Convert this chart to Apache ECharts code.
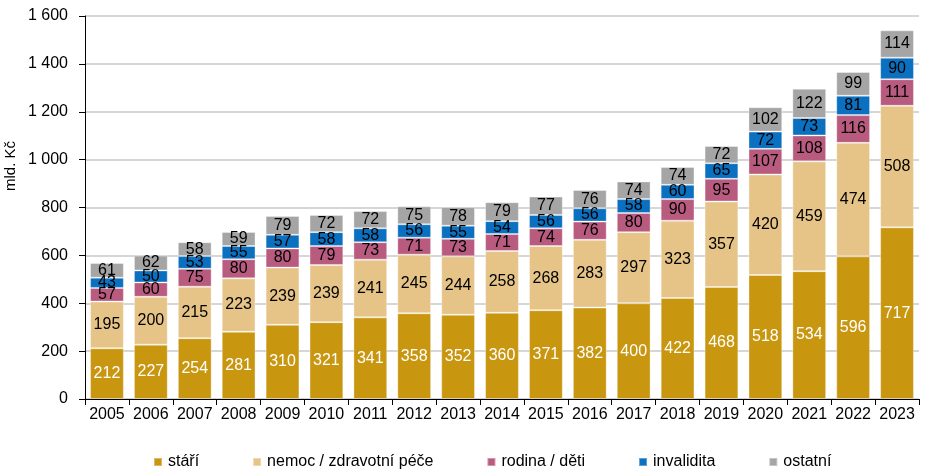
<!DOCTYPE html>
<html><head><meta charset="utf-8">
<script src="https://cdn.jsdelivr.net/npm/echarts@6/dist/echarts.min.js"></script>
<style>html,body{margin:0;padding:0;background:#fff}#c{width:926px;height:470px}</style>
</head><body><div id="c"></div>
<script>
const years = ['2005','2006','2007','2008','2009','2010','2011','2012','2013','2014','2015','2016','2017','2018','2019','2020','2021','2022','2023'];
const stari = [212,227,254,281,310,321,341,358,352,360,371,382,400,422,468,518,534,596,717];
const nemoc = [195,200,215,223,239,239,241,245,244,258,268,283,297,323,357,420,459,474,508];
const rodina = [57,60,75,80,80,79,73,71,73,71,74,76,80,90,95,107,108,116,111];
const invalidita = [43,50,53,55,57,58,58,56,55,54,56,56,58,60,65,72,73,81,90];
const ostatni = [61,62,58,59,79,72,72,75,78,79,77,76,74,74,72,102,122,99,114];
const seriesNames = ['stáří','nemoc / zdravotní péče','rodina / děti','invalidita','ostatní'];
const yTicks = [0,200,400,600,800,1000,1200,1400,1600];

const colors = ['#C9960F','#E6C488','#B95B7E','#0A70BF','#A5A5A5'];
const font = 'Liberation Sans, Arial, sans-serif';
const chart = echarts.init(document.getElementById('c'));
function mk(name, data, i, labColor){
  return {
    name, type:'bar', stack:'a', data,
    barCategoryGap:'23%',
    itemStyle:{color:colors[i], borderColor:'rgba(255,255,255,0.35)', borderWidth:1},
    label:{show:true, position:'inside', color:labColor, fontFamily:font, fontSize:16},
    emphasis:{disabled:true}
  };
}
chart.setOption({
  animation:false,
  grid:{left:85, right:7, top:16, bottom:71},
  legend:{
    top:449, left:148, itemWidth:8, itemHeight:8, itemGap:53, icon:'rect',
    textStyle:{fontFamily:font, fontSize:16, color:'#000', padding:[0,0,0,1]},
    data:seriesNames
  },
  graphic:[{type:'text', left:3, top:141, rotation:Math.PI/2,
    style:{text:'mld. Kč', font:'15px '+font, fill:'#000'}}],
  xAxis:{
    type:'category', data:years,
    axisLine:{lineStyle:{color:'#000', width:1}},
    axisTick:{show:true, length:6, interval:0, lineStyle:{color:'#000'}},
    axisLabel:{color:'#000', fontFamily:font, fontSize:16, margin:8, interval:0}
  },
  yAxis:{
    type:'value', min:0, max:1600, interval:200,
    axisLine:{show:true, lineStyle:{color:'#000'}},
    axisTick:{show:true, length:6, lineStyle:{color:'#000'}},
    splitLine:{lineStyle:{color:'#C8C8C8', width:1.5}},
    axisLabel:{color:'#000', fontFamily:font, fontSize:16, margin:17,
      formatter:v=>yTicks.includes(v)?String(v).replace(/\B(?=(\d{3})+(?!\d))/g,' '):''}
  },
  series:[
    mk(seriesNames[0], stari, 0, '#fff'),
    mk(seriesNames[1], nemoc, 1, '#000'),
    mk(seriesNames[2], rodina, 2, '#000'),
    mk(seriesNames[3], invalidita, 3, '#000'),
    mk(seriesNames[4], ostatni, 4, '#000')
  ]
});
</script></body></html>
